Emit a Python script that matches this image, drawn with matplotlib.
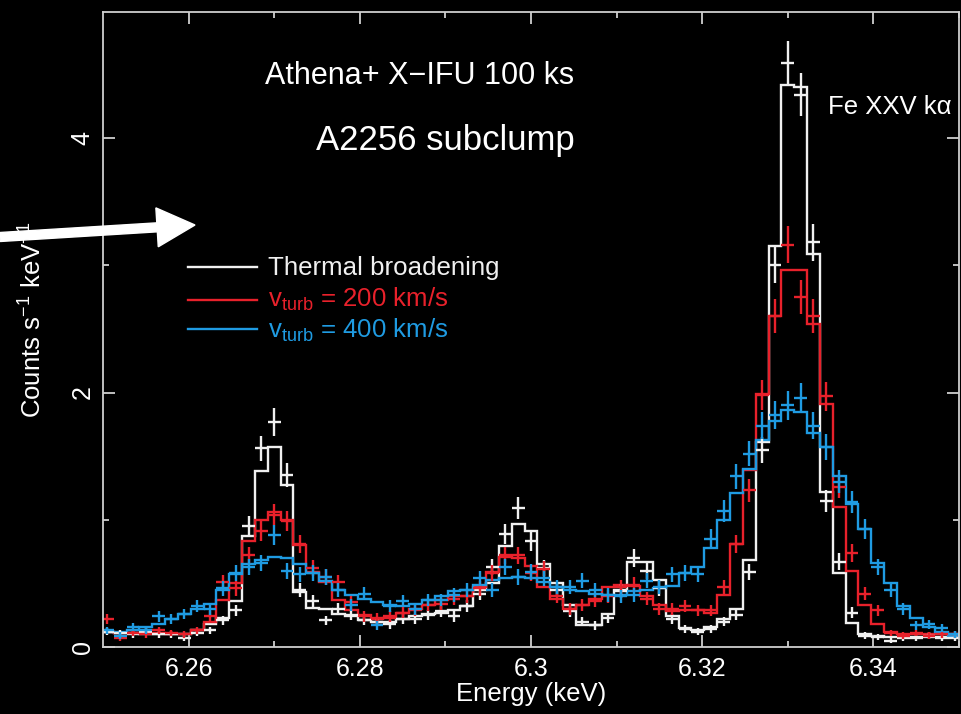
import numpy as np
import matplotlib
matplotlib.use("Agg")
import matplotlib.pyplot as plt
from matplotlib.patches import FancyArrow

plt.rcParams['font.family'] = ['Liberation Sans', 'DejaVu Sans']
plt.rcParams['mathtext.fontset'] = 'custom'
plt.rcParams['mathtext.rm'] = 'Liberation Sans'
plt.rcParams['mathtext.it'] = 'Liberation Sans:italic'
plt.rcParams['mathtext.bf'] = 'Liberation Sans:bold'

# spectral channels: 1.5 eV bins starting at 6.24975 keV
chan_start = 6.24975
chan_width = 0.0015
n_chan = 67
exposure = 1.0e5  # s

# model spectra (counts s^-1 keV^-1), one value per channel
thermal_model = [0.12, 0.11, 0.11, 0.10, 0.10, 0.10, 0.10, 0.13, 0.18, 0.23,
                 0.36, 0.87, 1.38, 1.57, 1.27, 0.43, 0.31, 0.30, 0.26, 0.24,
                 0.21, 0.20, 0.20, 0.22, 0.24, 0.26, 0.27, 0.29, 0.32, 0.45,
                 0.50, 0.79, 0.97, 0.91, 0.65, 0.50, 0.33, 0.17, 0.17, 0.26,
                 0.45, 0.67, 0.67, 0.53, 0.24, 0.15, 0.13, 0.16, 0.22, 0.30,
                 0.68, 1.61, 3.15, 4.42, 4.40, 3.09, 1.22, 0.58, 0.19, 0.10,
                 0.09, 0.08, 0.08, 0.08, 0.08, 0.08, 0.08]
v200_model = [0.12, 0.11, 0.11, 0.11, 0.11, 0.10, 0.10, 0.13, 0.20, 0.37,
              0.50, 0.83, 1.00, 1.06, 1.00, 0.80, 0.59, 0.51, 0.37, 0.29,
              0.25, 0.22, 0.23, 0.27, 0.30, 0.33, 0.37, 0.40, 0.40, 0.47,
              0.59, 0.71, 0.70, 0.64, 0.47, 0.38, 0.30, 0.33, 0.38, 0.47,
              0.49, 0.48, 0.40, 0.33, 0.28, 0.29, 0.29, 0.27, 0.41, 0.81,
              1.39, 1.99, 2.60, 2.96, 2.96, 2.54, 1.91, 1.10, 0.60, 0.33,
              0.18, 0.12, 0.10, 0.10, 0.10, 0.10, 0.10]
v400_model = [0.12, 0.12, 0.13, 0.16, 0.18, 0.22, 0.26, 0.30, 0.34, 0.45,
              0.57, 0.65, 0.68, 0.71, 0.70, 0.65, 0.58, 0.52, 0.45, 0.41,
              0.38, 0.35, 0.33, 0.32, 0.34, 0.37, 0.40, 0.44, 0.45, 0.49,
              0.53, 0.54, 0.55, 0.54, 0.51, 0.47, 0.45, 0.44, 0.42, 0.41,
              0.41, 0.44, 0.45, 0.46, 0.48, 0.58, 0.63, 0.78, 1.00, 1.21,
              1.40, 1.63, 1.78, 1.86, 1.85, 1.68, 1.57, 1.34, 1.12, 0.93,
              0.66, 0.50, 0.32, 0.23, 0.16, 0.12, 0.09]

# simulated data points
thermal_data = [0.12, 0.11, 0.10, 0.12, 0.10, 0.10, 0.07, 0.11, 0.13, 0.21,
                0.29, 0.95, 1.56, 1.77, 1.35, 0.45, 0.36, 0.21, 0.30, 0.25,
                0.21, 0.20, 0.18, 0.22, 0.22, 0.25, 0.28, 0.24, 0.32, 0.42,
                0.63, 0.89, 1.09, 0.83, 0.62, 0.45, 0.28, 0.20, 0.17, 0.23,
                0.44, 0.70, 0.60, 0.46, 0.22, 0.14, 0.12, 0.14, 0.20, 0.25,
                0.59, 1.55, 3.00, 4.59, 4.34, 3.18, 1.15, 0.67, 0.27, 0.09,
                0.08, 0.05, 0.07, 0.07, 0.09, 0.07, 0.07]
v200_data = [0.22, 0.07, 0.11, 0.10, 0.13, 0.11, 0.10, 0.13, 0.24, 0.51,
             0.46, 0.72, 0.91, 1.04, 0.99, 0.81, 0.62, 0.55, 0.51, 0.35,
             0.24, 0.23, 0.24, 0.27, 0.29, 0.33, 0.34, 0.38, 0.40, 0.46,
             0.58, 0.72, 0.72, 0.58, 0.61, 0.40, 0.30, 0.33, 0.36, 0.40,
             0.47, 0.49, 0.38, 0.30, 0.30, 0.32, 0.29, 0.29, 0.47, 0.81,
             1.23, 1.98, 2.60, 3.16, 2.75, 2.60, 1.97, 1.26, 0.74, 0.42,
             0.29, 0.11, 0.09, 0.11, 0.09, 0.10, 0.10]
v400_data = [0.13, 0.09, 0.16, 0.13, 0.24, 0.22, 0.26, 0.32, 0.30, 0.46,
             0.58, 0.63, 0.66, 0.88, 0.60, 0.57, 0.58, 0.55, 0.45, 0.33,
             0.42, 0.17, 0.32, 0.36, 0.30, 0.37, 0.37, 0.41, 0.45, 0.54,
             0.45, 0.63, 0.55, 0.59, 0.54, 0.47, 0.47, 0.52, 0.45, 0.41,
             0.40, 0.41, 0.52, 0.47, 0.57, 0.58, 0.57, 0.85, 1.07, 1.34,
             1.52, 1.74, 1.82, 1.90, 1.96, 1.74, 1.57, 1.30, 1.14, 0.93,
             0.63, 0.45, 0.30, 0.17, 0.18, 0.15, 0.10]

xticks = [6.26, 6.28, 6.30, 6.32, 6.34]
xtick_labels = ["6.26", "6.28", "6.3", "6.32", "6.34"]
yticks = [0, 2, 4]

c_white = '#f0f0f0'
c_red = '#e8212b'
c_blue = '#1f9be2'
c_axis = '#cfcfcf'

edges = chan_start + chan_width * np.arange(n_chan + 1)
centers = 0.5 * (edges[:-1] + edges[1:])

fig = plt.figure(figsize=(9.61, 7.14), dpi=100, facecolor='black')
ax = fig.add_axes([0.1072, 0.0938, 0.8907, 0.8894])
ax.set_facecolor('black')

series = [(thermal_model, thermal_data, c_white),
          (v200_model, v200_data, c_red),
          (v400_model, v400_data, c_blue)]
for model, data, col in series:
    data = np.array(data)
    yerr = np.sqrt(data / (exposure * chan_width))
    ax.stairs(model, edges, baseline=None, color=col, lw=1.7)
    ax.errorbar(centers, data, xerr=chan_width / 2, yerr=yerr, fmt='none',
                ecolor=col, elinewidth=1.7, capsize=0)

ax.set_xlim(6.25, 6.35)
ax.set_ylim(0, 4.99)
ax.set_xticks(xticks)
ax.set_xticklabels(xtick_labels)
ax.set_xticks(np.arange(6.27, 6.35, 0.02), minor=True)
ax.set_yticks(yticks)
ax.set_yticks([1, 3], minor=True)

for s in ax.spines.values():
    s.set_color(c_axis)
    s.set_linewidth(1.3)
ax.tick_params(which='both', direction='in', top=True, right=True,
               color=c_axis, width=1.3, labelcolor='white', labelsize=18)
ax.tick_params(which='major', length=8.6)
ax.tick_params(which='minor', length=4.3)
ax.tick_params(axis='x', pad=7)
ax.tick_params(axis='y', pad=6, labelrotation=90)
plt.setp(ax.get_yticklabels(), va='center')

ax.set_xlabel("Energy (keV)", color='white', fontsize=18.5, labelpad=1)
ax.set_ylabel(r"Counts s$^{-1}$ keV$^{-1}$", color='white', fontsize=18.5)
ax.yaxis.set_label_coords(-0.066, 0.515)

ax.text(0.370, 0.899, "Athena+ X\u2212IFU 100 ks", transform=ax.transAxes,
        color='white', fontsize=22, ha='center', va='center')
ax.text(0.400, 0.797, "A2256 subclump", transform=ax.transAxes,
        color='white', fontsize=25, ha='center', va='center')
ax.text(0.847, 0.850, "Fe XXV k\u03b1", transform=ax.transAxes,
        color='white', fontsize=18.5, ha='left', va='center')

# legend
leg_rows = [("Thermal broadening", c_white, 0.5984, 0.5858),
            (r"v$_{\rm turb}$ = 200 km/s", c_red, 0.5465, 0.5354),
            (r"v$_{\rm turb}$ = 400 km/s", c_blue, 0.5008, 0.4866)]
for label, col, yl, yt in leg_rows:
    ax.plot([0.0993, 0.1799], [yl, yl], color=col, lw=1.7,
            transform=ax.transAxes, clip_on=False)
    ax.text(0.1928, yt, label, color=col, fontsize=18.6,
            transform=ax.transAxes, ha='left', va='baseline')

# white pointer arrow on the left
fig.add_artist(FancyArrow(0.0, 4.77, 1.95, 0.12, width=0.09,
                          head_width=0.39, head_length=0.38,
                          length_includes_head=True, color='white',
                          transform=fig.dpi_scale_trans))

fig.savefig("out.png", dpi=100, facecolor='black')
